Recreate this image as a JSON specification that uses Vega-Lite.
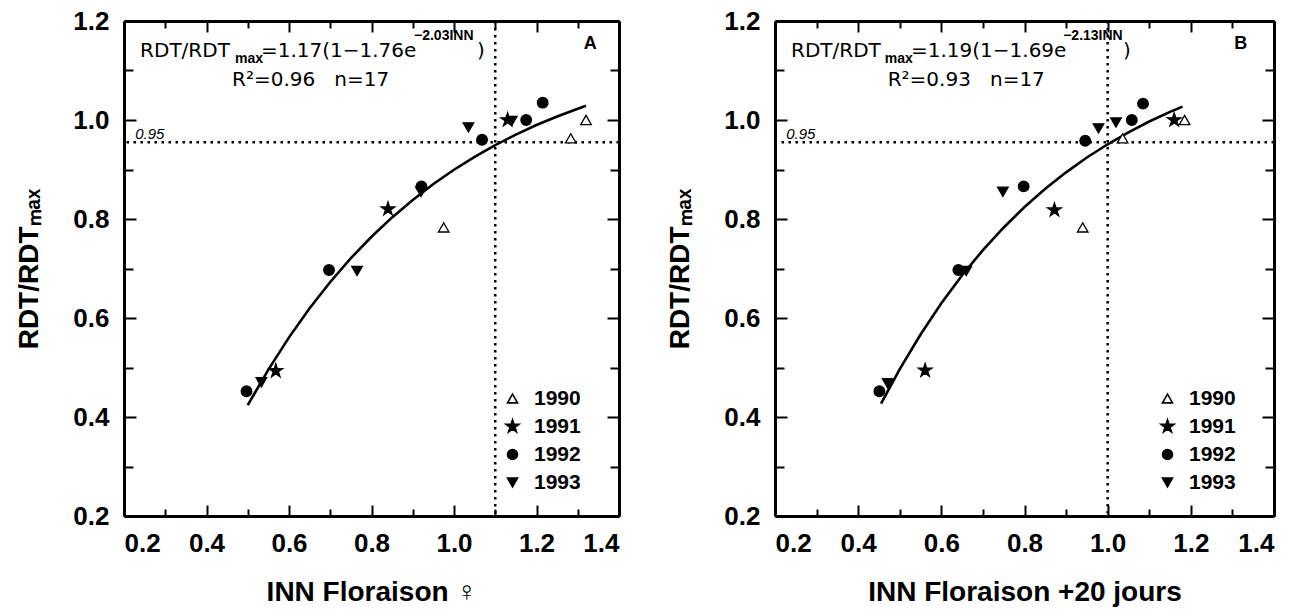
{
  "$schema": "https://vega.github.io/schema/vega-lite/v6.json",
  "padding": {"left": 15, "top": 8, "right": 5, "bottom": 5},
  "background": "white",
  "datasets": {
    "pts": [
      {"panel": "A", "year": "1990", "inn": 0.975, "rdt": 0.783},
      {"panel": "A", "year": "1990", "inn": 1.283, "rdt": 0.963},
      {"panel": "A", "year": "1990", "inn": 1.32, "rdt": 1.0},
      {"panel": "A", "year": "1991", "inn": 0.568, "rdt": 0.493},
      {"panel": "A", "year": "1991", "inn": 0.84, "rdt": 0.82},
      {"panel": "A", "year": "1991", "inn": 1.13, "rdt": 1.0},
      {"panel": "A", "year": "1992", "inn": 0.497, "rdt": 0.452},
      {"panel": "A", "year": "1992", "inn": 0.697, "rdt": 0.697},
      {"panel": "A", "year": "1992", "inn": 0.921, "rdt": 0.866},
      {"panel": "A", "year": "1992", "inn": 1.068, "rdt": 0.96},
      {"panel": "A", "year": "1992", "inn": 1.175, "rdt": 1.0},
      {"panel": "A", "year": "1992", "inn": 1.215, "rdt": 1.035},
      {"panel": "A", "year": "1993", "inn": 0.533, "rdt": 0.47},
      {"panel": "A", "year": "1993", "inn": 0.765, "rdt": 0.695},
      {"panel": "A", "year": "1993", "inn": 0.92, "rdt": 0.855},
      {"panel": "A", "year": "1993", "inn": 1.035, "rdt": 0.985},
      {"panel": "A", "year": "1993", "inn": 1.14, "rdt": 0.998},
      {"panel": "B", "year": "1990", "inn": 0.94, "rdt": 0.783},
      {"panel": "B", "year": "1990", "inn": 1.036, "rdt": 0.963},
      {"panel": "B", "year": "1990", "inn": 1.185, "rdt": 1.0},
      {"panel": "B", "year": "1991", "inn": 0.561, "rdt": 0.494},
      {"panel": "B", "year": "1991", "inn": 0.872, "rdt": 0.818},
      {"panel": "B", "year": "1991", "inn": 1.16, "rdt": 1.0},
      {"panel": "B", "year": "1992", "inn": 0.451, "rdt": 0.452},
      {"panel": "B", "year": "1992", "inn": 0.641, "rdt": 0.697},
      {"panel": "B", "year": "1992", "inn": 0.798, "rdt": 0.866},
      {"panel": "B", "year": "1992", "inn": 0.946, "rdt": 0.958},
      {"panel": "B", "year": "1992", "inn": 1.058, "rdt": 1.0},
      {"panel": "B", "year": "1992", "inn": 1.085, "rdt": 1.033},
      {"panel": "B", "year": "1993", "inn": 0.471, "rdt": 0.468},
      {"panel": "B", "year": "1993", "inn": 0.66, "rdt": 0.695},
      {"panel": "B", "year": "1993", "inn": 0.748, "rdt": 0.855},
      {"panel": "B", "year": "1993", "inn": 0.978, "rdt": 0.983},
      {"panel": "B", "year": "1993", "inn": 1.02, "rdt": 0.995}
    ],
    "curve": [
      {"panel": "A", "inn": 0.5, "rdt": 0.4238},
      {"panel": "A", "inn": 0.55, "rdt": 0.4958},
      {"panel": "A", "inn": 0.6, "rdt": 0.5609},
      {"panel": "A", "inn": 0.65, "rdt": 0.6196},
      {"panel": "A", "inn": 0.7, "rdt": 0.6728},
      {"panel": "A", "inn": 0.75, "rdt": 0.7208},
      {"panel": "A", "inn": 0.8, "rdt": 0.7641},
      {"panel": "A", "inn": 0.85, "rdt": 0.8032},
      {"panel": "A", "inn": 0.9, "rdt": 0.8386},
      {"panel": "A", "inn": 0.95, "rdt": 0.8706},
      {"panel": "A", "inn": 1.0, "rdt": 0.8995},
      {"panel": "A", "inn": 1.05, "rdt": 0.9256},
      {"panel": "A", "inn": 1.1, "rdt": 0.9492},
      {"panel": "A", "inn": 1.15, "rdt": 0.9705},
      {"panel": "A", "inn": 1.2, "rdt": 0.9898},
      {"panel": "A", "inn": 1.25, "rdt": 1.0072},
      {"panel": "A", "inn": 1.3, "rdt": 1.0229},
      {"panel": "A", "inn": 1.32, "rdt": 1.0288},
      {"panel": "B", "inn": 0.455, "rdt": 0.427},
      {"panel": "B", "inn": 0.5, "rdt": 0.4967},
      {"panel": "B", "inn": 0.55, "rdt": 0.5667},
      {"panel": "B", "inn": 0.6, "rdt": 0.6297},
      {"panel": "B", "inn": 0.65, "rdt": 0.6863},
      {"panel": "B", "inn": 0.7, "rdt": 0.7372},
      {"panel": "B", "inn": 0.75, "rdt": 0.7829},
      {"panel": "B", "inn": 0.8, "rdt": 0.8241},
      {"panel": "B", "inn": 0.85, "rdt": 0.861},
      {"panel": "B", "inn": 0.9, "rdt": 0.8943},
      {"panel": "B", "inn": 0.95, "rdt": 0.9242},
      {"panel": "B", "inn": 1.0, "rdt": 0.951},
      {"panel": "B", "inn": 1.05, "rdt": 0.9752},
      {"panel": "B", "inn": 1.1, "rdt": 0.9969},
      {"panel": "B", "inn": 1.15, "rdt": 1.0164},
      {"panel": "B", "inn": 1.18, "rdt": 1.0271}
    ],
    "eqmain": [
      {"panel": "A", "inn": 0.239, "rdt": 1.139, "label": "RDT/RDT"},
      {"panel": "A", "inn": 0.532, "rdt": 1.139, "label": "=1.17(1−1.76e"},
      {"panel": "A", "inn": 1.056, "rdt": 1.139, "label": ")"},
      {"panel": "A", "inn": 0.462, "rdt": 1.081, "label": "R²=0.96\u00a0\u00a0\u00a0n=17"},
      {"panel": "B", "inn": 0.2385, "rdt": 1.139, "label": "RDT/RDT"},
      {"panel": "B", "inn": 0.527, "rdt": 1.139, "label": "=1.19(1−1.69e"},
      {"panel": "B", "inn": 1.037, "rdt": 1.139, "label": ")"},
      {"panel": "B", "inn": 0.471, "rdt": 1.081, "label": "R²=0.93\u00a0\u00a0\u00a0n=17"}
    ],
    "eqsmall": [
      {"panel": "A", "inn": 0.469, "rdt": 1.123, "label": "max"},
      {"panel": "A", "inn": 0.903, "rdt": 1.169, "label": "−2.03INN"},
      {"panel": "B", "inn": 0.464, "rdt": 1.123, "label": "max"},
      {"panel": "B", "inn": 0.893, "rdt": 1.169, "label": "−2.13INN"}
    ]
  },
  "spacing": 45,
  "resolve": {"legend": {"shape": "independent", "fill": "independent", "stroke": "independent"}},
  "hconcat": [
    {
      "width": 495,
      "height": 495,
      "resolve": {"axis": {"x": "independent", "y": "independent"}},
      "layer": [
        {
          "data": {"values": [{"inn": 1.1}]},
          "mark": {"type": "rule", "color": "black", "strokeWidth": 2.5, "strokeDash": [2.5, 4.5]},
          "encoding": {
            "x": {"field": "inn", "type": "quantitative", "scale": {"domain": [0.2, 1.4], "nice": false, "zero": false},
              "axis": {"orient": "bottom", "title": "INN Floraison ♀", "values": [0.2,0.3,0.4,0.5,0.6,0.7,0.8,0.9,1.0,1.1,1.2,1.3,1.4],
                "labelExpr": "round(datum.value*10) % 2 == 0 ? format(datum.value, '.1f') : ''",
                "tickSize": {"condition": {"test": "round(datum.value*10) % 2 == 0", "value": -11}, "value": -7},
                "labelPadding": 25, "titlePadding": 22}}
          }
        },
        {
          "data": {"values": [{"rdt": 0.955}]},
          "mark": {"type": "rule", "color": "black", "strokeWidth": 2.5, "strokeDash": [2.5, 4.5]},
          "encoding": {
            "y": {"field": "rdt", "type": "quantitative", "scale": {"domain": [0.2, 1.2], "nice": false, "zero": false},
              "axis": {"orient": "left", "title": "RDT/RDTₘₐₓ", "values": [0.2,0.3,0.4,0.5,0.6,0.7,0.8,0.9,1.0,1.1,1.2],
                "labelExpr": "round(datum.value*10) % 2 == 0 ? format(datum.value, '.1f') : ''",
                "tickSize": {"condition": {"test": "round(datum.value*10) % 2 == 0", "value": -12}, "value": -9},
                "labelPadding": 27, "titlePadding": 29}}
          }
        },
        {
          "data": {"name": "curve"},
          "transform": [{"filter": "datum.panel == 'A'"}],
          "mark": {"type": "line", "color": "black", "strokeWidth": 2.6},
          "encoding": {
            "x": {"field": "inn", "type": "quantitative", "scale": {"domain": [0.2, 1.4], "nice": false, "zero": false},
              "axis": {"orient": "top", "title": null, "labels": false, "values": [0.2,0.3,0.4,0.5,0.6,0.7,0.8,0.9,1.0,1.1,1.2,1.3,1.4],
                "tickSize": {"condition": {"test": "round(datum.value*10) % 2 == 0", "value": -11}, "value": -7}}},
            "y": {"field": "rdt", "type": "quantitative", "scale": {"domain": [0.2, 1.2], "nice": false, "zero": false},
              "axis": {"orient": "right", "title": null, "labels": false, "values": [0.2,0.3,0.4,0.5,0.6,0.7,0.8,0.9,1.0,1.1,1.2],
                "tickSize": {"condition": {"test": "round(datum.value*10) % 2 == 0", "value": -12}, "value": -9}}}
          }
        },
        {
          "data": {"name": "pts"},
          "transform": [{"filter": "datum.panel == 'A'"}],
          "mark": {"type": "point", "filled": true, "strokeWidth": 1.3, "opacity": 1, "size": 112},
          "encoding": {
            "x": {"field": "inn", "type": "quantitative", "scale": {"domain": [0.2, 1.4], "nice": false, "zero": false}, "axis": null},
            "y": {"field": "rdt", "type": "quantitative", "scale": {"domain": [0.2, 1.2], "nice": false, "zero": false}, "axis": null},
            "shape": {"field": "year", "type": "nominal",
              "scale": {"domain": ["1990","1991","1992","1993"], "range": ["triangle-up", "M0,-1.35L0.303,-0.417L1.284,-0.417L0.491,0.159L0.794,1.092L0,0.516L-0.794,1.092L-0.491,0.159L-1.284,-0.417L-0.303,-0.417Z", "circle", "triangle-down"]},
              "legend": {"orient": "none", "legendX": 378, "legendY": 367, "title": null}},
            "fill": {"field": "year", "type": "nominal",
              "scale": {"domain": ["1990","1991","1992","1993"], "range": ["white", "black", "black", "black"]},
              "legend": {"orient": "none", "legendX": 378, "legendY": 367, "title": null}},
            "stroke": {"field": "year", "type": "nominal",
              "scale": {"domain": ["1990","1991","1992","1993"], "range": ["black", "black", "black", "black"]},
              "legend": {"orient": "none", "legendX": 378, "legendY": 367, "title": null}}
          }
        },
        {
          "data": {"name": "eqmain"},
          "transform": [{"filter": "datum.panel == 'A'"}],
          "mark": {"type": "text", "align": "left", "baseline": "middle", "fontSize": 20, "font": "DejaVu Sans", "color": "black"},
          "encoding": {
            "x": {"field": "inn", "type": "quantitative", "scale": {"domain": [0.2, 1.4], "nice": false, "zero": false}, "axis": null},
            "y": {"field": "rdt", "type": "quantitative", "scale": {"domain": [0.2, 1.2], "nice": false, "zero": false}, "axis": null},
            "text": {"field": "label"}
          }
        },
        {
          "data": {"name": "eqsmall"},
          "transform": [{"filter": "datum.panel == 'A'"}],
          "mark": {"type": "text", "align": "left", "baseline": "middle", "fontSize": 14, "font": "Liberation Sans", "fontWeight": "bold", "color": "black"},
          "encoding": {
            "x": {"field": "inn", "type": "quantitative", "scale": {"domain": [0.2, 1.4], "nice": false, "zero": false}, "axis": null},
            "y": {"field": "rdt", "type": "quantitative", "scale": {"domain": [0.2, 1.2], "nice": false, "zero": false}, "axis": null},
            "text": {"field": "label"}
          }
        },
        {
          "data": {"values": [{"inn": 0.227, "rdt": 0.972, "label": "0.95"}]},
          "mark": {"type": "text", "align": "left", "baseline": "middle", "fontSize": 15, "font": "Liberation Sans", "fontStyle": "italic", "color": "black"},
          "encoding": {
            "x": {"field": "inn", "type": "quantitative", "scale": {"domain": [0.2, 1.4], "nice": false, "zero": false}, "axis": null},
            "y": {"field": "rdt", "type": "quantitative", "scale": {"domain": [0.2, 1.2], "nice": false, "zero": false}, "axis": null},
            "text": {"field": "label"}
          }
        },
        {
          "data": {"values": [{"inn": 1.33, "rdt": 1.153, "label": "A"}]},
          "mark": {"type": "text", "align": "center", "baseline": "middle", "fontSize": 18, "font": "Liberation Sans", "fontWeight": "bold", "color": "black"},
          "encoding": {
            "x": {"field": "inn", "type": "quantitative", "scale": {"domain": [0.2, 1.4], "nice": false, "zero": false}, "axis": null},
            "y": {"field": "rdt", "type": "quantitative", "scale": {"domain": [0.2, 1.2], "nice": false, "zero": false}, "axis": null},
            "text": {"field": "label"}
          }
        }
      ]
    },
    {
      "width": 499,
      "height": 495,
      "resolve": {"axis": {"x": "independent", "y": "independent"}},
      "layer": [
        {
          "data": {"values": [{"inn": 1.0}]},
          "mark": {"type": "rule", "color": "black", "strokeWidth": 2.5, "strokeDash": [2.5, 4.5]},
          "encoding": {
            "x": {"field": "inn", "type": "quantitative", "scale": {"domain": [0.2, 1.4], "nice": false, "zero": false},
              "axis": {"orient": "bottom", "title": "INN Floraison +20 jours", "values": [0.2,0.3,0.4,0.5,0.6,0.7,0.8,0.9,1.0,1.1,1.2,1.3,1.4],
                "labelExpr": "round(datum.value*10) % 2 == 0 ? format(datum.value, '.1f') : ''",
                "tickSize": {"condition": {"test": "round(datum.value*10) % 2 == 0", "value": -11}, "value": -7},
                "labelPadding": 25, "titlePadding": 22}}
          }
        },
        {
          "data": {"values": [{"rdt": 0.955}]},
          "mark": {"type": "rule", "color": "black", "strokeWidth": 2.5, "strokeDash": [2.5, 4.5]},
          "encoding": {
            "y": {"field": "rdt", "type": "quantitative", "scale": {"domain": [0.2, 1.2], "nice": false, "zero": false},
              "axis": {"orient": "left", "title": "RDT/RDTₘₐₓ", "values": [0.2,0.3,0.4,0.5,0.6,0.7,0.8,0.9,1.0,1.1,1.2],
                "labelExpr": "round(datum.value*10) % 2 == 0 ? format(datum.value, '.1f') : ''",
                "tickSize": {"condition": {"test": "round(datum.value*10) % 2 == 0", "value": -12}, "value": -9},
                "labelPadding": 27, "titlePadding": 29}}
          }
        },
        {
          "data": {"name": "curve"},
          "transform": [{"filter": "datum.panel == 'B'"}],
          "mark": {"type": "line", "color": "black", "strokeWidth": 2.6},
          "encoding": {
            "x": {"field": "inn", "type": "quantitative", "scale": {"domain": [0.2, 1.4], "nice": false, "zero": false},
              "axis": {"orient": "top", "title": null, "labels": false, "values": [0.2,0.3,0.4,0.5,0.6,0.7,0.8,0.9,1.0,1.1,1.2,1.3,1.4],
                "tickSize": {"condition": {"test": "round(datum.value*10) % 2 == 0", "value": -11}, "value": -7}}},
            "y": {"field": "rdt", "type": "quantitative", "scale": {"domain": [0.2, 1.2], "nice": false, "zero": false},
              "axis": {"orient": "right", "title": null, "labels": false, "values": [0.2,0.3,0.4,0.5,0.6,0.7,0.8,0.9,1.0,1.1,1.2],
                "tickSize": {"condition": {"test": "round(datum.value*10) % 2 == 0", "value": -12}, "value": -9}}}
          }
        },
        {
          "data": {"name": "pts"},
          "transform": [{"filter": "datum.panel == 'B'"}],
          "mark": {"type": "point", "filled": true, "strokeWidth": 1.3, "opacity": 1, "size": 112},
          "encoding": {
            "x": {"field": "inn", "type": "quantitative", "scale": {"domain": [0.2, 1.4], "nice": false, "zero": false}, "axis": null},
            "y": {"field": "rdt", "type": "quantitative", "scale": {"domain": [0.2, 1.2], "nice": false, "zero": false}, "axis": null},
            "shape": {"field": "year", "type": "nominal",
              "scale": {"domain": ["1990","1991","1992","1993"], "range": ["triangle-up", "M0,-1.35L0.303,-0.417L1.284,-0.417L0.491,0.159L0.794,1.092L0,0.516L-0.794,1.092L-0.491,0.159L-1.284,-0.417L-0.303,-0.417Z", "circle", "triangle-down"]},
              "legend": {"orient": "none", "legendX": 382, "legendY": 367, "title": null}},
            "fill": {"field": "year", "type": "nominal",
              "scale": {"domain": ["1990","1991","1992","1993"], "range": ["white", "black", "black", "black"]},
              "legend": {"orient": "none", "legendX": 382, "legendY": 367, "title": null}},
            "stroke": {"field": "year", "type": "nominal",
              "scale": {"domain": ["1990","1991","1992","1993"], "range": ["black", "black", "black", "black"]},
              "legend": {"orient": "none", "legendX": 382, "legendY": 367, "title": null}}
          }
        },
        {
          "data": {"name": "eqmain"},
          "transform": [{"filter": "datum.panel == 'B'"}],
          "mark": {"type": "text", "align": "left", "baseline": "middle", "fontSize": 20, "font": "DejaVu Sans", "color": "black"},
          "encoding": {
            "x": {"field": "inn", "type": "quantitative", "scale": {"domain": [0.2, 1.4], "nice": false, "zero": false}, "axis": null},
            "y": {"field": "rdt", "type": "quantitative", "scale": {"domain": [0.2, 1.2], "nice": false, "zero": false}, "axis": null},
            "text": {"field": "label"}
          }
        },
        {
          "data": {"name": "eqsmall"},
          "transform": [{"filter": "datum.panel == 'B'"}],
          "mark": {"type": "text", "align": "left", "baseline": "middle", "fontSize": 14, "font": "Liberation Sans", "fontWeight": "bold", "color": "black"},
          "encoding": {
            "x": {"field": "inn", "type": "quantitative", "scale": {"domain": [0.2, 1.4], "nice": false, "zero": false}, "axis": null},
            "y": {"field": "rdt", "type": "quantitative", "scale": {"domain": [0.2, 1.2], "nice": false, "zero": false}, "axis": null},
            "text": {"field": "label"}
          }
        },
        {
          "data": {"values": [{"inn": 0.227, "rdt": 0.972, "label": "0.95"}]},
          "mark": {"type": "text", "align": "left", "baseline": "middle", "fontSize": 15, "font": "Liberation Sans", "fontStyle": "italic", "color": "black"},
          "encoding": {
            "x": {"field": "inn", "type": "quantitative", "scale": {"domain": [0.2, 1.4], "nice": false, "zero": false}, "axis": null},
            "y": {"field": "rdt", "type": "quantitative", "scale": {"domain": [0.2, 1.2], "nice": false, "zero": false}, "axis": null},
            "text": {"field": "label"}
          }
        },
        {
          "data": {"values": [{"inn": 1.32, "rdt": 1.153, "label": "B"}]},
          "mark": {"type": "text", "align": "center", "baseline": "middle", "fontSize": 18, "font": "Liberation Sans", "fontWeight": "bold", "color": "black"},
          "encoding": {
            "x": {"field": "inn", "type": "quantitative", "scale": {"domain": [0.2, 1.4], "nice": false, "zero": false}, "axis": null},
            "y": {"field": "rdt", "type": "quantitative", "scale": {"domain": [0.2, 1.2], "nice": false, "zero": false}, "axis": null},
            "text": {"field": "label"}
          }
        }
      ]
    }
  ],
  "config": {
    "view": {"stroke": null},
    "axis": {
      "domainColor": "black", "domainWidth": 3, "tickColor": "black", "tickWidth": 2, "grid": false,
      "labelFont": "Liberation Sans", "labelFontWeight": "bold", "labelFontSize": 26, "labelColor": "black",
      "titleFont": "Liberation Sans", "titleFontWeight": "bold", "titleFontSize": 28, "titleColor": "black"
    },
    "legend": {
      "labelFont": "Liberation Sans", "labelFontSize": 21, "labelFontWeight": "bold", "labelColor": "black",
      "symbolStrokeColor": "black", "symbolStrokeWidth": 1.6, "symbolSize": 100, "rowPadding": 6, "labelOffset": 11, "padding": 0
    }
  }
}
